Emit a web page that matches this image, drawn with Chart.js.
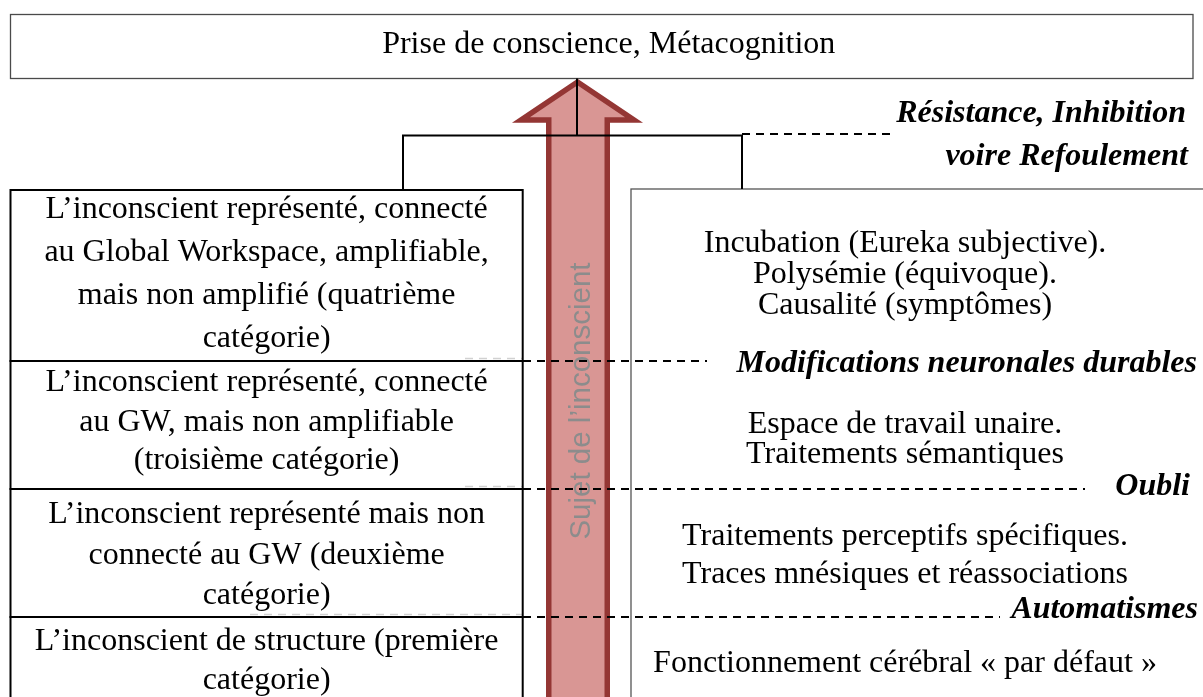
<!DOCTYPE html>
<html lang="fr">
<head>
<meta charset="utf-8">
<title>Prise de conscience, Métacognition</title>
<script src="https://cdn.jsdelivr.net/npm/chart.js@4"></script>
<style>
  html, body { margin: 0; padding: 0; background: #fff; }
  #wrap { width: 1203px; height: 697px; }
</style>
</head>
<body>
<div id="wrap"><canvas id="diagram" width="1203" height="697"></canvas></div>
<script>
'use strict';

// title box at the top
let topLabel = 'Prise de conscience, Métacognition';

// the four categories of the unconscious, top to bottom
let categories = [
  ['L\u2019inconscient représenté, connecté', 'au Global Workspace, amplifiable,', 'mais non amplifié (quatrième', 'catégorie)'],
  ['L\u2019inconscient représenté, connecté', 'au GW, mais non amplifiable', '(troisième catégorie)'],
  ['L\u2019inconscient représenté mais non', 'connecté au GW (deuxième', 'catégorie)'],
  ['L\u2019inconscient de structure (première', 'catégorie)']
];
// limits between the categories (diagram units, y axis goes down)
let categoryBounds = [190, 361, 489, 617, 760];

// processes in the right column
let processes = [
  ['Incubation (Eureka subjective).', 'Polysémie (équivoque).', 'Causalité (symptômes)'],
  ['Espace de travail unaire.', 'Traitements sémantiques'],
  ['Traitements perceptifs spécifiques.', 'Traces mnésiques et réassociations'],
  ['Fonctionnement cérébral « par défaut »']
];

// thresholds (dashed lines)
let thresholds = [['Résistance, Inhibition', 'voire Refoulement'], ['Modifications neuronales durables'], ['Oubli'], ['Automatismes']];
let thresholdLevel = [134, 361, 489, 617];
let thresholdFrom = [742, 523, 523, 523];
let thresholdHiddenFrom = [742, 465, 465, 250];
let thresholdTo = [890, 707, 1085, 1000];

let arrowLabel = 'Sujet de l\u2019inconscient';

// layout, kept apart from the data
let layout = {
  topBox: { l: 10.5, r: 1193, t: 14.5, b: 78.5, baseline: 53 },
  catBox: { l: 10.5, r: 522.7 },
  catBaselines: [[218, 261, 304, 347], [391, 431, 469], [523, 564, 604], [650, 689]],
  procBox: { l: 631, r: 1230, t: 189, b: 760 },
  procX: 905,
  procBaselines: [[252, 283, 314], [433, 463], [545, 583], [672]],
  thrRight: [[1186, 1188], [1197], [1190], [1198]],
  thrBaselines: [[122, 165], [372], [495], [618]],
  arrow: { tipX: 577.5, tipY: 82, headY: 120, wingL: 521, wingR: 634, shaftL: 548.75, shaftR: 607.25, bottom: 760 },
  arrowText: { x: 590, y: 401 }
};

let serif = '"Liberation Serif", "Times New Roman", serif';

let datasets = [];
// faint part of the dashed lines, behind the left boxes
for (let i = 0; i < thresholds.length; i++) {
  if (thresholdHiddenFrom[i] >= thresholdFrom[i]) continue;
  datasets.push({
    data: [{ x: thresholdHiddenFrom[i], y: thresholdLevel[i] - 2.5 }, { x: thresholdFrom[i], y: thresholdLevel[i] - 2.5 }],
    borderColor: 'rgba(0, 0, 0, 0.18)',
    borderWidth: 1.5,
    borderDash: [8, 6],
    showLine: true,
    pointRadius: 0
  });
}
// dashed threshold lines
for (let i = 0; i < thresholds.length; i++) {
  datasets.push({
    data: [{ x: thresholdFrom[i], y: thresholdLevel[i] }, { x: thresholdTo[i], y: thresholdLevel[i] }],
    borderColor: '#000',
    borderWidth: 2,
    borderDash: [8, 6],
    showLine: true,
    pointRadius: 0
  });
}
// connector from the top box to the two columns
let connectors = [
  [{ x: 577, y: 78.5 }, { x: 577, y: 135.5 }],
  [{ x: 403, y: 190 }, { x: 403, y: 135.5 }, { x: 742, y: 135.5 }, { x: 742, y: 189 }]
];
for (let i = 0; i < connectors.length; i++) {
  datasets.push({
    data: connectors[i],
    borderColor: '#000',
    borderWidth: 2,
    showLine: true,
    pointRadius: 0
  });
}

let diagramPlugin = {
  id: 'diagram',
  beforeDatasetsDraw(chart) {
    let ctx = chart.ctx;
    let px = v => chart.scales.x.getPixelForValue(v);
    let py = v => chart.scales.y.getPixelForValue(v);
    ctx.save();

    // top box
    let tb = layout.topBox;
    ctx.strokeStyle = '#4a4a4a';
    ctx.lineWidth = 1.3;
    ctx.strokeRect(px(tb.l), py(tb.t), px(tb.r) - px(tb.l), py(tb.b) - py(tb.t));

    // right box
    let pb = layout.procBox;
    ctx.strokeStyle = '#555';
    ctx.lineWidth = 1.3;
    ctx.strokeRect(px(pb.l), py(pb.t), px(pb.r) - px(pb.l), py(pb.b) - py(pb.t));

    // arrow
    let a = layout.arrow;
    ctx.beginPath();
    ctx.moveTo(px(a.tipX), py(a.tipY));
    ctx.lineTo(px(a.wingR), py(a.headY));
    ctx.lineTo(px(a.shaftR), py(a.headY));
    ctx.lineTo(px(a.shaftR), py(a.bottom));
    ctx.lineTo(px(a.shaftL), py(a.bottom));
    ctx.lineTo(px(a.shaftL), py(a.headY));
    ctx.lineTo(px(a.wingL), py(a.headY));
    ctx.closePath();
    ctx.fillStyle = '#D99694';
    ctx.fill();
    ctx.strokeStyle = '#943634';
    ctx.lineWidth = 5.5;
    ctx.lineJoin = 'miter';
    ctx.stroke();

    // arrow label, rotated
    ctx.save();
    ctx.translate(px(layout.arrowText.x), py(layout.arrowText.y));
    ctx.rotate(-Math.PI / 2);
    ctx.fillStyle = '#8c8c8c';
    ctx.font = '29.5px "Liberation Sans", Arial, sans-serif';
    ctx.textAlign = 'center';
    ctx.textBaseline = 'alphabetic';
    ctx.fillText(arrowLabel, 0, 0);
    ctx.restore();
    ctx.restore();
  },
  afterDatasetsDraw(chart) {
    let ctx = chart.ctx;
    let px = v => chart.scales.x.getPixelForValue(v);
    let py = v => chart.scales.y.getPixelForValue(v);
    ctx.save();

    // left boxes, drawn over the faint dashes
    ctx.strokeStyle = '#000';
    ctx.lineWidth = 2;
    for (let i = 0; i < categories.length; i++) {
      let t = py(categoryBounds[i]);
      let b = py(categoryBounds[i + 1]);
      ctx.strokeRect(px(layout.catBox.l), t, px(layout.catBox.r) - px(layout.catBox.l), b - t);
    }

    ctx.fillStyle = '#000';
    ctx.textBaseline = 'alphabetic';

    // title
    ctx.font = '32px ' + serif;
    ctx.textAlign = 'center';
    let tb = layout.topBox;
    ctx.fillText(topLabel, px((tb.l + tb.r) / 2 + 7), py(tb.baseline));

    // categories
    let cx = (layout.catBox.l + layout.catBox.r) / 2;
    for (let i = 0; i < categories.length; i++) {
      for (let j = 0; j < categories[i].length; j++) {
        ctx.fillText(categories[i][j], px(cx), py(layout.catBaselines[i][j]));
      }
    }

    // processes
    for (let i = 0; i < processes.length; i++) {
      for (let j = 0; j < processes[i].length; j++) {
        ctx.fillText(processes[i][j], px(layout.procX), py(layout.procBaselines[i][j]));
      }
    }

    // threshold labels
    ctx.font = 'italic bold 32px ' + serif;
    ctx.textAlign = 'right';
    for (let i = 0; i < thresholds.length; i++) {
      for (let j = 0; j < thresholds[i].length; j++) {
        ctx.fillText(thresholds[i][j], px(layout.thrRight[i][j]), py(layout.thrBaselines[i][j]));
      }
    }
    ctx.restore();
  }
};

let ctxEl = document.getElementById('diagram').getContext('2d');
let diagram = new Chart(ctxEl, {
  type: 'scatter',
  data: { datasets: datasets },
  options: {
    responsive: false,
    animation: false,
    layout: { padding: 0 },
    scales: {
      x: { type: 'linear', min: 0, max: 1203, display: false },
      y: { type: 'linear', min: 0, max: 697, reverse: true, display: false }
    },
    plugins: {
      legend: { display: false },
      tooltip: { enabled: false }
    }
  },
  plugins: [diagramPlugin]
});
</script>
</body>
</html>
